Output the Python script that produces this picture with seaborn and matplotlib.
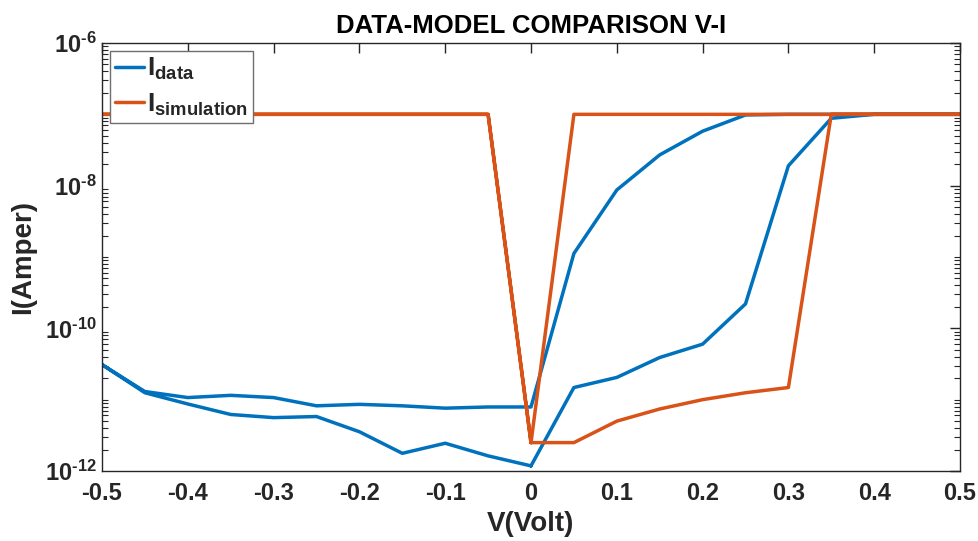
import matplotlib
matplotlib.use("Agg")
import matplotlib.pyplot as plt
import numpy as np
import pandas as pd
import seaborn as sns
from matplotlib.ticker import FixedLocator, FixedFormatter, NullFormatter

# ---- data ----
# Voltage sweep: 0 -> 0.5 -> 0 -> -0.5 -> 0
v_fwd_pos = [0.0, 0.05, 0.10, 0.15, 0.20, 0.25, 0.30, 0.35, 0.40, 0.45, 0.50]
v_back_pos = [0.45, 0.40, 0.35, 0.30, 0.25, 0.20, 0.15, 0.10, 0.05, 0.0]
v_fwd_neg = [-0.05, -0.10, -0.15, -0.20, -0.25, -0.30, -0.35, -0.40, -0.45, -0.50]
v_back_neg = [-0.45, -0.40, -0.35, -0.30, -0.25, -0.20, -0.15, -0.10, -0.05, 0.0]

i_data_fwd_pos = [1.18e-12, 1.48e-11, 2.05e-11, 3.9e-11, 6.0e-11, 2.2e-10,
                  1.9e-8, 8.8e-8, 1.0e-7, 1.0e-7, 1.0e-7]
i_data_back_pos = [1.0e-7, 1.0e-7, 1.0e-7, 1.0e-7, 9.8e-8, 5.8e-8, 2.7e-8,
                   8.7e-9, 1.12e-9, 7.9e-12]
i_data_fwd_neg = [7.9e-12, 7.6e-12, 8.2e-12, 8.6e-12, 8.2e-12, 1.07e-11,
                  1.15e-11, 1.07e-11, 1.3e-11, 3.1e-11]
i_data_back_neg = [1.25e-11, 8.7e-12, 6.2e-12, 5.6e-12, 5.8e-12, 3.55e-12,
                   1.77e-12, 2.45e-12, 1.63e-12, 1.18e-12]

i_sim_fwd_pos = [2.5e-12, 2.5e-12, 5.0e-12, 7.4e-12, 1.0e-11, 1.25e-11,
                 1.48e-11, 1.0e-7, 1.0e-7, 1.0e-7, 1.0e-7]
i_sim_back_pos = [1.0e-7, 1.0e-7, 1.0e-7, 1.0e-7, 1.0e-7, 1.0e-7, 1.0e-7,
                  1.0e-7, 1.0e-7, 2.5e-12]
i_sim_fwd_neg = [1.0e-7, 1.0e-7, 1.0e-7, 1.0e-7, 1.0e-7, 1.0e-7, 1.0e-7,
                 1.0e-7, 1.0e-7, 1.0e-7]
i_sim_back_neg = [1.0e-7, 1.0e-7, 1.0e-7, 1.0e-7, 1.0e-7, 1.0e-7, 1.0e-7,
                  1.0e-7, 1.0e-7, 2.5e-12]

x_ticks = [-0.5, -0.4, -0.3, -0.2, -0.1, 0, 0.1, 0.2, 0.3, 0.4, 0.5]
x_tick_labels = ["-0.5", "-0.4", "-0.3", "-0.2", "-0.1", "0", "0.1", "0.2", "0.3", "0.4", "0.5"]
y_ticks = [1e-12, 1e-10, 1e-8, 1e-6]
# U+2010 hyphen keeps the short dash of the original labels
y_tick_labels = ["$\\mathbf{10^{\u201012}}$", "$\\mathbf{10^{\u201010}}$",
                 "$\\mathbf{10^{\u20108}}$", "$\\mathbf{10^{\u20106}}$"]

series_names = [r"$\mathbf{I}_{\mathbf{data}}$", r"$\mathbf{I}_{\mathbf{simulation}}$"]
colors = ["#0072BD", "#D95319"]
title = "DATA-MODEL COMPARISON V-I"
xlabel = "V(Volt)"
ylabel = "I(Amper)"

# ---- build tidy frame ----
volt = v_fwd_pos + v_back_pos + v_fwd_neg + v_back_neg
i_data = i_data_fwd_pos + i_data_back_pos + i_data_fwd_neg + i_data_back_neg
i_sim = i_sim_fwd_pos + i_sim_back_pos + i_sim_fwd_neg + i_sim_back_neg
df = pd.DataFrame({
    "V": volt + volt,
    "I": i_data + i_sim,
    "series": [series_names[0]] * len(volt) + [series_names[1]] * len(volt),
})

# ---- style ----
sns.set_theme(style="white")
plt.rcParams["font.family"] = ["Liberation Sans", "DejaVu Sans"]
plt.rcParams["font.weight"] = "bold"
plt.rcParams["mathtext.fontset"] = "custom"
plt.rcParams["mathtext.rm"] = "Liberation Sans:bold"
plt.rcParams["mathtext.bf"] = "Liberation Sans:bold"
plt.rcParams["mathtext.it"] = "Liberation Sans:bold"
axis_col = "#262626"

fig = plt.figure(figsize=(9.79, 5.41), dpi=100)
ax = fig.add_axes([102 / 979, 1 - 471 / 541, (960 - 102) / 979, (471 - 43) / 541])

sns.lineplot(data=df, x="V", y="I", hue="series", palette=colors,
             sort=False, estimator=None, linewidth=2.5, ax=ax)

ax.set_yscale("log")
ax.set_xlim(-0.5, 0.5)
ax.set_ylim(1e-12, 1e-6)

ax.xaxis.set_major_locator(FixedLocator(x_ticks))
ax.xaxis.set_major_formatter(FixedFormatter(x_tick_labels))
ax.yaxis.set_major_locator(FixedLocator(y_ticks))
ax.yaxis.set_major_formatter(FixedFormatter(y_tick_labels))
minors = [m * 10.0 ** e for e in range(-12, -6) for m in range(1, 10) if not (m == 1 and e % 2 == 0)]
ax.yaxis.set_minor_locator(FixedLocator(minors))
ax.yaxis.set_minor_formatter(NullFormatter())

ax.tick_params(axis="both", which="major", direction="in", length=7, width=1,
               color=axis_col, labelcolor=axis_col, top=True, right=True,
               labelsize=17)
ax.tick_params(axis="x", which="major", pad=8)
ax.tick_params(axis="y", which="major", pad=4)
ax.tick_params(axis="y", which="minor", direction="in", length=4, width=0.8,
               color=axis_col, left=True, right=True)
for lab in ax.get_xticklabels():
    lab.set_fontweight("bold")

for s in ax.spines.values():
    s.set_visible(True)
    s.set_color(axis_col)
    s.set_linewidth(1.0)

ax.set_title(title, fontsize=18.5, fontweight="bold", color="black", pad=7)
ax.set_xlabel(xlabel, fontsize=20, fontweight="bold", color=axis_col, labelpad=4)
ax.set_ylabel(ylabel, fontsize=20, fontweight="bold", color=axis_col, labelpad=6)

leg = ax.legend(loc="upper left", fontsize=19, frameon=True, fancybox=False,
                framealpha=1, edgecolor="#6e6e6e", handlelength=1.1,
                handletextpad=0.12, borderpad=0.2, labelspacing=0.35,
                borderaxespad=0.3, title=None)
leg.get_frame().set_linewidth(1.0)
for line in leg.get_lines():
    line.set_linewidth(2.5)

fig.savefig("out.png", dpi=100, facecolor="white")
